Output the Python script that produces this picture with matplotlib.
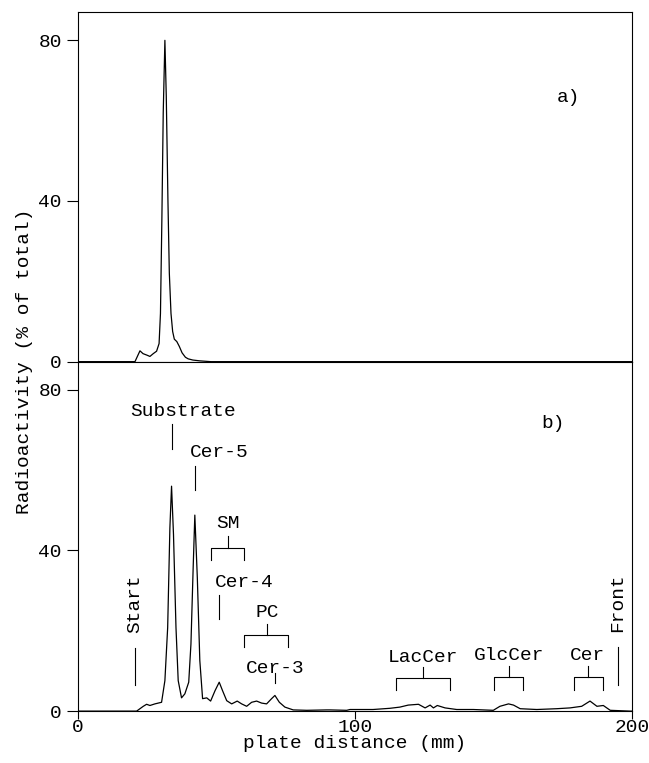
import matplotlib
matplotlib.use("Agg")
import matplotlib.pyplot as plt

plt.rcParams['font.family'] = ['Liberation Mono', 'DejaVu Sans Mono']
plt.rcParams['font.size'] = 14

# panel a) trace (plate distance mm, % of total)
dist_a = [0, 20.6, 21.4, 22.4, 23.5, 25.0, 26.0, 27.2, 28.4, 29.3, 29.8, 30.3,
          30.8, 31.4, 31.9, 32.5, 33.0, 33.6, 34.2, 34.8, 35.7, 36.6, 37.6,
          38.8, 39.8, 41.5, 44, 48, 200]
act_a = [0, 0, 1.2, 2.7, 2.0, 1.6, 1.3, 2.0, 2.6, 4.5, 12, 35,
         62, 80, 66, 40, 22, 12, 7.5, 5.6, 5.0, 3.8, 2.2,
         1.1, 0.7, 0.4, 0.2, 0, 0]

# panel b) trace
dist_b = [0, 21.2, 23.6, 24.8, 26.0, 27.8, 30.2, 31.4, 32.4, 33.2, 33.8, 34.5,
          35.4, 36.2, 37.4, 38.6, 40.0, 40.8, 41.6, 42.2, 43.1, 44.0, 45.0,
          46.5, 47.9, 49.5, 51.0, 52.2, 53.7, 55.5, 57.5, 59.1, 60.9, 62.7,
          64.5, 66.3, 68.1, 69.9, 71.1, 72.7, 74.7, 77.7, 82.6, 89.8, 91.0,
          97.0, 98.2, 106.5, 112.6, 116.2, 119.2, 122.9, 125.3, 127.1, 128.3,
          129.7, 132.5, 136.7, 142.7, 149.9, 152.3, 155.4, 157.2, 159.6, 165.6,
          172.8, 177.6, 181.8, 184.8, 187.3, 189.6, 192.1, 199.3, 200]
act_b = [0, 0, 1.2, 1.7, 1.4, 1.8, 2.2, 7.6, 20.8, 45.6, 56, 44,
         20.8, 7.6, 3.3, 4.3, 7.2, 16.7, 35.7, 48.8, 33.2, 12.6, 3.1,
         3.3, 2.5, 5.1, 7.2, 5.1, 2.6, 1.8, 2.5, 1.8, 1.2, 2.2,
         2.5, 2.0, 1.8, 3.1, 3.9, 2.2, 1.0, 0.3, 0.2, 0.3, 0.3,
         0.2, 0.4, 0.4, 0.7, 1.0, 1.5, 1.7, 0.8, 1.5, 0.8,
         1.4, 0.8, 0.4, 0.4, 0.2, 1.2, 1.8, 1.5, 0.6, 0.4,
         0.6, 0.8, 1.2, 2.5, 1.2, 1.4, 0.2, 0, 0]

# single-line markers: label, line x, line y0, y1, text x, text y, rotation
mark_labels = ['Substrate', 'Cer-5', 'Cer-4', 'Cer-3', 'Start', 'Front']
mark_x = [34.0, 42.2, 51.0, 71.0, 20.6, 195.0]
mark_y0 = [65.3, 55.0, 23.0, 7.0, 6.4, 6.4]
mark_y1 = [71.5, 61.0, 28.8, 9.4, 15.6, 15.9]
mark_tx = [38.0, 51.0, 60.0, 71.2, 20.6, 194.6]
mark_ty = [74.7, 64.3, 32.0, 10.7, 26.8, 27.0]
mark_rot = [0, 0, 0, 0, 90, 90]

# bracket markers: label, left, right, stem x, leg bottom, bar, stem top, text y
br_labels = ['SM', 'PC', 'LacCer', 'GlcCer', 'Cer']
br_left = [48.0, 60.0, 114.8, 150.2, 179.0]
br_right = [60.0, 76.0, 134.3, 160.6, 189.5]
br_mid = [54.0, 68.2, 124.6, 155.6, 184.0]
br_leg = [37.7, 15.9, 5.2, 5.2, 5.2]
br_bar = [40.7, 18.9, 8.2, 8.4, 8.4]
br_top = [43.7, 21.8, 10.9, 11.2, 11.2]
br_ty = [46.6, 24.6, 13.4, 13.9, 13.9]

fig = plt.figure(figsize=(6.49, 7.63), dpi=100)
ax1 = fig.add_axes([0.120, 0.526, 0.854, 0.458])
ax2 = fig.add_axes([0.120, 0.068, 0.854, 0.458])

for ax in (ax1, ax2):
    ax.set_xlim(0, 200)
    ax.set_ylim(0, 87)
    ax.set_yticks([0, 40, 80])
    ax.tick_params(direction='out', length=8, width=0.8, labelsize=14)
    for s in ax.spines.values():
        s.set_linewidth(0.8)

ax1.plot(dist_a, act_a, color='black', lw=0.9)
ax1.set_xticks([])
ax1.text(177, 65.7, 'a)', ha='center', va='center')

ax2.plot(dist_b, act_b, color='black', lw=0.9)
ax2.set_xticks([0, 100, 200])
ax2.tick_params(axis='x', length=6, pad=0)
ax2.text(171.5, 71.7, 'b)', ha='center', va='center')

for i in range(len(mark_labels)):
    ax2.plot([mark_x[i], mark_x[i]], [mark_y0[i], mark_y1[i]], color='black', lw=0.8)
    ax2.text(mark_tx[i], mark_ty[i], mark_labels[i], ha='center', va='center',
             rotation=mark_rot[i])

for i in range(len(br_labels)):
    ax2.plot([br_left[i], br_left[i], br_right[i], br_right[i]],
             [br_leg[i], br_bar[i], br_bar[i], br_leg[i]], color='black', lw=0.8)
    ax2.plot([br_mid[i], br_mid[i]], [br_bar[i], br_top[i]], color='black', lw=0.8)
    ax2.text(br_mid[i], br_ty[i], br_labels[i], ha='center', va='center')

ax2.set_xlabel('plate distance (mm)', fontsize=14, labelpad=-1)
fig.text(0.038, 0.526, 'Radioactivity (% of total)', rotation=90,
         ha='center', va='center', fontsize=14)

fig.savefig('out.png', dpi=100)
